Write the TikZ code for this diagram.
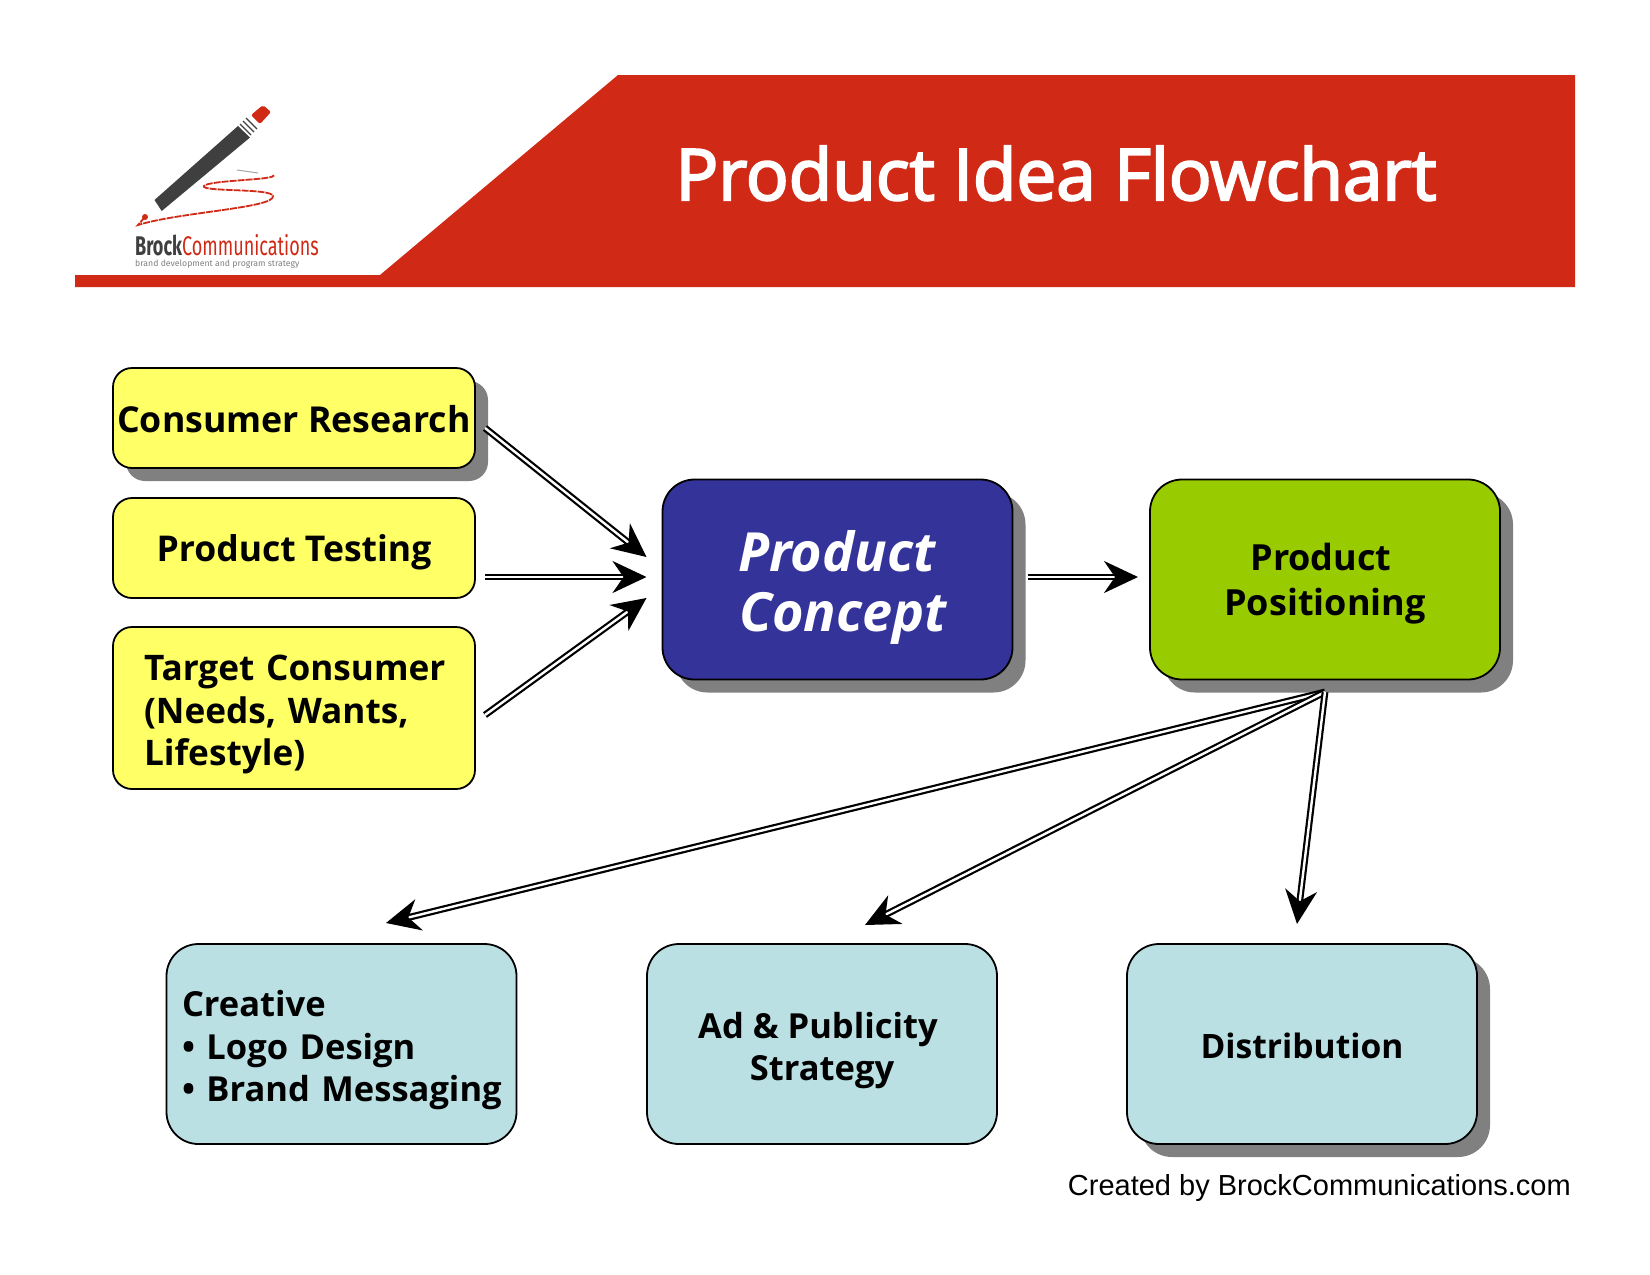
\documentclass[tikz,border=0pt]{standalone}
\usepackage{fontspec}
\setmainfont{Open Sans}
\newfontfamily\titlefont[FakeBold=3]{Open Sans}
\newfontfamily\logofont{Fira Sans}
\newfontfamily\credfont{Liberation Sans}
\usetikzlibrary{arrows.meta,shadows}
\definecolor{hdrred}{HTML}{D02A16}
\definecolor{pyellow}{HTML}{FFFF66}
\definecolor{pblue}{HTML}{333399}
\definecolor{pgreen}{HTML}{99CC00}
\definecolor{pteal}{HTML}{BBE0E3}
\definecolor{shadowgray}{HTML}{808080}
\definecolor{pencilgray}{HTML}{3F3F3F}
\newcommand{\topgap}[1]{\rule{0pt}{#1pt}}
\tikzset{
  x=1pt,y=-1pt,
  bsize/.style={font=\bfseries\fontsize{#1}{42.6}\selectfont},
  box/.style={draw=black,line width=1.8pt,inner sep=0pt,outer sep=0pt,text=black,
    bsize=35,align=center},
  smallbox/.style={box,fill=pyellow,minimum width=362pt,rounded corners=19pt},
  bigbox/.style={box,minimum width=350pt,minimum height=200pt,rounded corners=32pt},
  shadowed/.style={drop shadow={shadow xshift=13pt,shadow yshift=-13pt,fill=shadowgray,opacity=1}},
  conn/.style={double=white,double distance=2.4pt,line width=2.2pt,draw=black,
    -{Stealth[length=34pt,width=32pt,inset=11pt]}},
}
\begin{document}
\begin{tikzpicture}
\useasboundingbox[fill=white] (0,0) rectangle (1650,1275);
% header
\fill[hdrred] (75,275) -- (380,275) -- (618,75) -- (1575,75) -- (1575,287) -- (75,287) -- cycle;
\node[text=white,font=\titlefont\fontsize{71}{80}\selectfont,anchor=base] (title) at (1056,200) {Product Idea Flowchart};
% logo
\fill[pencilgray] (154.5,200) -- (161.7,211) -- (250,137.5) -- (238,126) -- cycle;
\draw[pencilgray,line width=1.4pt] (240,124) -- (251,135) (243,121) -- (254,132) (246,118) -- (257,129);
\fill[hdrred,rounded corners=2pt] (251,115) -- (263,105) -- (271,112) -- (260,124) -- cycle;
\draw[hdrred,line width=1.8pt,dash pattern=on 7pt off 1pt]
  (145,217) -- (138,225) .. controls (180,212) and (275,208) .. (273,196)
  .. controls (272,188) and (200,192) .. (204,186)
  .. controls (208,180) and (280,180) .. (273,175);
\fill[hdrred] (145,217) circle (3pt);
\draw[gray!70,line width=1pt] (237,170) -- (258,173);
\node[anchor=base west,inner sep=0pt,font=\logofont\bfseries\fontsize{27}{27}\selectfont,xscale=0.668] (logoname) at (135,255)
  {\textcolor{pencilgray}{Brock}\textcolor{hdrred}{\mdseries Communications}};
\node[anchor=base west,inner sep=0pt,font=\logofont\fontsize{8.7}{8.7}\selectfont,text=gray] (logosub) at (135,266.5)
  {brand development and program strategy};
% left boxes
\node[smallbox,minimum height=100pt,shadowed,bsize=35.7] (research) at (294,418) {\topgap{30}Consumer Research};
\node[smallbox,minimum height=100pt,bsize=35.5] (testing) at (294,548) {\topgap{36}Product Testing};
\node[smallbox,minimum height=162pt,text width=300pt,align=left,bsize=35.2] (target) at (294,708)
  {\topgap{39}\mbox{Target Consumer}\\(Needs, Wants,\\Lifestyle)};
% middle
\node[bigbox,shadowed,fill=pblue,text=white,
  font=\bfseries\itshape\fontsize{54}{60}\selectfont] (concept) at (837.5,579.5)
  {\topgap{56}Product\hspace*{1.5pt}\\\hspace*{11pt}Concept};
\node[bigbox,shadowed,fill=pgreen,font=\bfseries\fontsize{36}{45}\selectfont] (positioning) at (1325,579.5)
  {\topgap{35}Product\hspace*{8pt}\\Positioning};
% bottom
\node[bigbox,fill=pteal,text width=335pt,align=left,bsize=34.5] (creative) at (341.5,1044)
  {\topgap{39}\hspace*{8pt}Creative\\\hspace*{8pt}• Logo Design\\\hspace*{8pt}• Brand Messaging};
\node[bigbox,fill=pteal,bsize=34.5] (adpub) at (822,1044) {\topgap{39}Ad \& Publicity\hspace*{8pt}\\Strategy};
\node[bigbox,shadowed,fill=pteal,bsize=33.6] (distribution) at (1302,1044) {\topgap{30}Distribution};
\node[anchor=base east,inner sep=0pt,font=\credfont\fontsize{29}{29}\selectfont] (credit) at (1571,1195) {Created by BrockCommunications.com};
% connectors
\draw[conn] ([shift={(10,10)}]research.east) -- ([shift={(-16,-22.5)}]concept.west);
\draw[conn] ([shift={(10,29)}]testing.east) -- ([shift={(-16,-2.5)}]concept.west);
\draw[conn] ([shift={(10,7)}]target.east) -- ([shift={(-16,18.5)}]concept.west);
\draw[conn] ([shift={(15,-2.5)}]concept.east) -- ([shift={(-12,-2.5)}]positioning.west);
\draw[conn] ([shift={(0,12.5)}]positioning.south) -- ([shift={(44.5,-21)}]creative.north);
\draw[conn] ([shift={(0,12.5)}]positioning.south) -- ([shift={(43,-19)}]adpub.north);
\draw[conn] ([shift={(0,12.5)}]positioning.south) -- ([shift={(-5,-20)}]distribution.north);
\end{tikzpicture}
\end{document}
